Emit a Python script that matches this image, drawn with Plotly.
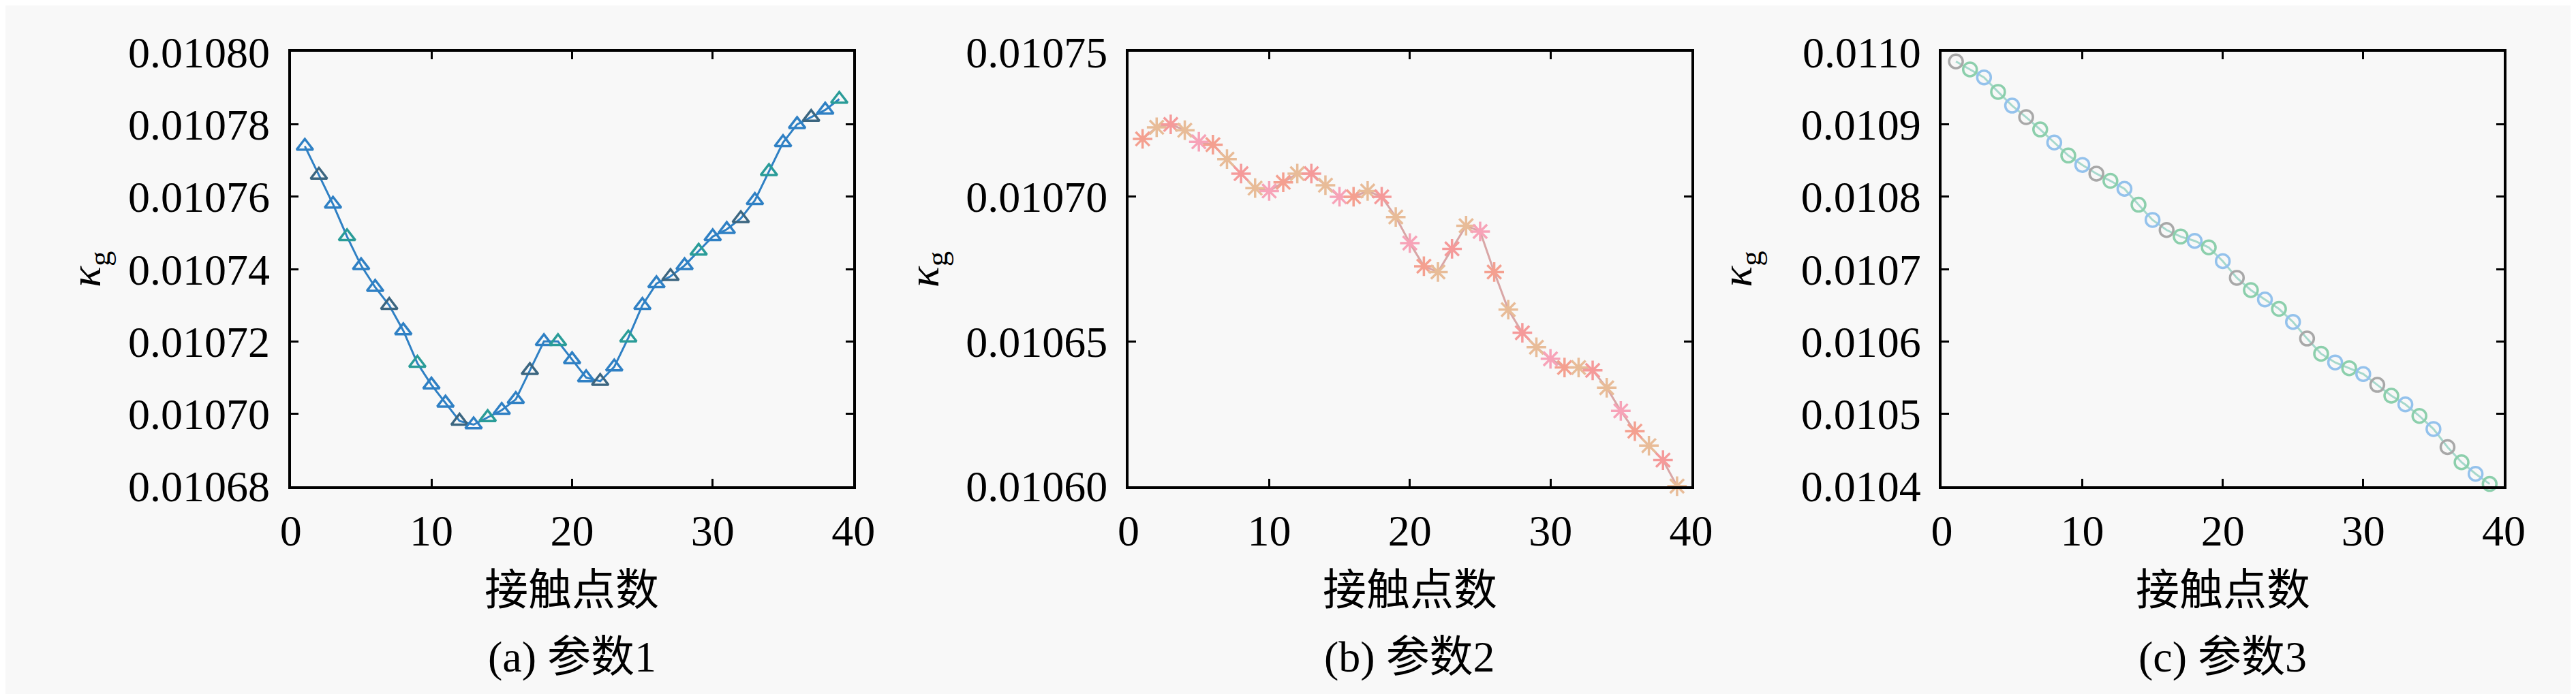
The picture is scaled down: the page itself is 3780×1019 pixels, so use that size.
import plotly.graph_objects as go
from plotly.subplots import make_subplots

# contact point index for each panel
points = list(range(1, 40))

# (a) parameter 1
kappa_a = [0.010774, 0.010766, 0.010758, 0.010749, 0.010741, 0.010735, 0.010730, 0.010723,
           0.010714, 0.010708, 0.010703, 0.010698, 0.010697, 0.010699, 0.010701, 0.010704,
           0.010712, 0.010720, 0.010720, 0.010715, 0.010710, 0.010709, 0.010713, 0.010721,
           0.010730, 0.010736, 0.010738, 0.010741, 0.010745, 0.010749, 0.010751, 0.010754,
           0.010759, 0.010767, 0.010775, 0.010780, 0.010782, 0.010784, 0.010787]

# (b) parameter 2
kappa_b = [0.010720, 0.010724, 0.010725, 0.010723, 0.010719, 0.010718, 0.010713, 0.010708,
           0.010703, 0.010702, 0.010705, 0.010708, 0.010708, 0.010704, 0.010700, 0.010700,
           0.010702, 0.010700, 0.010693, 0.010684, 0.010676, 0.010674, 0.010682, 0.010690,
           0.010688, 0.010674, 0.010661, 0.010653, 0.010648, 0.010644, 0.010641, 0.010641,
           0.010640, 0.010634, 0.010626, 0.010619, 0.010614, 0.010609, 0.010600]

# (c) parameter 3
kappa_c = [0.010987, 0.010976, 0.010965, 0.010945, 0.010926, 0.010910, 0.010893, 0.010875,
           0.010857, 0.010844, 0.010832, 0.010822, 0.010811, 0.010789, 0.010768, 0.010754,
           0.010745, 0.010739, 0.010730, 0.010711, 0.010688, 0.010671, 0.010658, 0.010645,
           0.010627, 0.010604, 0.010583, 0.010571, 0.010563, 0.010555, 0.010540, 0.010525,
           0.010513, 0.010497, 0.010479, 0.010454, 0.010433, 0.010417, 0.010403]

captions = ["(a) 参数1", "(b) 参数2", "(c) 参数3"]
x_title = "接触点数"
y_ranges = [[0.01068, 0.01080], [0.01060, 0.01075], [0.0104, 0.0110]]
y_steps = [0.00002, 0.00005, 0.0001]
y_formats = [".5f", ".5f", ".4f"]

# styling
serif = "Liberation Serif, Noto Sans CJK SC"
bg = "#f8f8f8"
x_domains = [[0.1079, 0.3291], [0.4373, 0.6585], [0.7571, 0.9780]]
y_domain = [0.2924, 0.9647]

def cycle(palette, n):
    return [palette[i % len(palette)] for i in range(n)]

n = len(points)
styles = [
    dict(line="#2f80c4", symbol="triangle-up-open", size=21,
         marker=cycle(["#2f80c4", "#3c6680", "#2f80c4", "#2a9c98", "#2f80c4"], n)),
    dict(line="#d9a6a6", symbol="asterisk-open", size=24,
         marker=cycle(["#f4a090", "#e8bc98", "#f59a9a", "#e8bc98", "#f7a3b8"], n)),
    dict(line="#a6d8cc", symbol="circle-open", size=20,
         marker=cycle(["#a8a8a8", "#8ccfac", "#94c2ec", "#8ccfac", "#94c2ec"], n)),
]

fig = make_subplots(rows=1, cols=3)

for i, kappa in enumerate([kappa_a, kappa_b, kappa_c]):
    s = styles[i]
    fig.add_trace(go.Scatter(
        x=points, y=kappa, mode="lines+markers",
        line=dict(color=s["line"], width=3),
        marker=dict(symbol=s["symbol"], size=s["size"], color=s["marker"],
                    line=dict(color=s["marker"], width=3.5)),
        cliponaxis=False, showlegend=False), row=1, col=i + 1)

    axis_common = dict(showline=True, linecolor="black", linewidth=4, mirror="ticks",
                       ticks="inside", ticklen=11, tickwidth=3, tickcolor="black",
                       showgrid=False, zeroline=False,
                       tickfont=dict(family=serif, size=64, color="black"))
    fig.update_xaxes(range=[0, 40], tick0=0, dtick=10, domain=x_domains[i],
                     ticklabelstandoff=6, **axis_common, row=1, col=i + 1)
    fig.update_yaxes(range=y_ranges[i], tick0=y_ranges[i][0], dtick=y_steps[i],
                     tickformat=y_formats[i], domain=y_domain,
                     ticklabelstandoff=14, **axis_common, row=1, col=i + 1)

    x_mid = (x_domains[i][0] + x_domains[i][1]) / 2
    fig.add_annotation(text=x_title, x=x_mid, y=1 - 885 / 1019, xref="paper", yref="paper",
                       xanchor="center", yanchor="middle", showarrow=False,
                       font=dict(family=serif, size=64, color="black"))
    fig.add_annotation(text=captions[i], x=x_mid, y=1 - 990 / 1019, xref="paper", yref="paper",
                       xanchor="center", yanchor="middle", showarrow=False,
                       font=dict(family=serif, size=64, color="black"))
    fig.add_annotation(text="<i>κ</i><sub>g</sub>", textangle=-90,
                       x=x_domains[i][0] - 300 / 3780, y=(y_domain[0] + y_domain[1]) / 2,
                       xref="paper", yref="paper", xanchor="center", yanchor="middle",
                       showarrow=False, font=dict(family=serif, size=64, color="black"))

fig.update_layout(width=3780, height=1019, margin=dict(l=0, r=0, t=0, b=0),
                  paper_bgcolor=bg, plot_bgcolor=bg)

fig.write_html("out.html")
